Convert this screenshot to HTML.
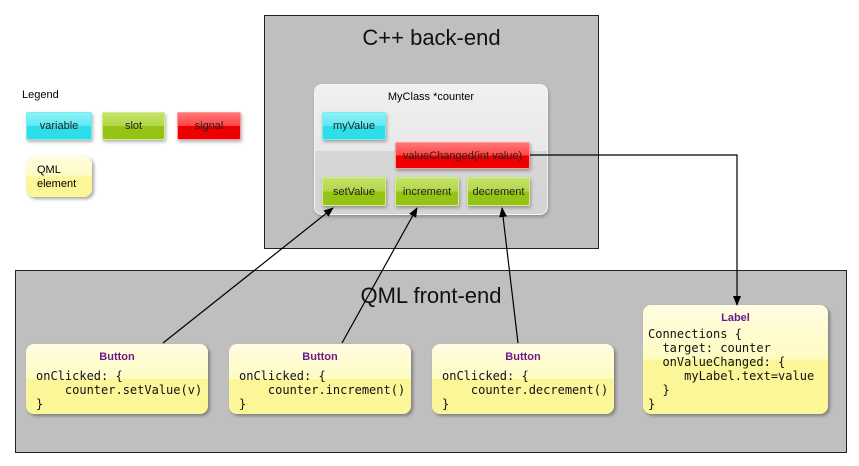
<!DOCTYPE html>
<html><head><meta charset="utf-8"><style>
body{margin:0;width:859px;height:466px;background:#fff;position:relative;overflow:hidden;font-family:"Liberation Sans",sans-serif}
.a{position:absolute;box-sizing:border-box}
.big{background:#c0bfc0;border:1px solid #222}
.t{position:absolute;font-size:22px;color:#111;text-align:center}
.g{border-radius:2px;font-size:11px;text-align:center;color:#222;display:flex;align-items:center;justify-content:center}
.var{background:linear-gradient(#8ef2f8 0,#5ce8f2 50%,#2fdde9 50%,#2fdde9 100%);border:1px solid #7ee;box-shadow:1px 2px 3px rgba(0,0,0,.3)}
.slot{background:linear-gradient(#c4e26a 0,#b1d846 50%,#95c316 50%,#95c316 100%);border:1px solid #d6ec8a;box-shadow:1px 2px 3px rgba(0,0,0,.3)}
.sig{background:linear-gradient(#f77 0,#f44 50%,#e00 50%,#e00 100%);border:1px solid #f99;box-shadow:1px 2px 3px rgba(0,0,0,.3)}
.q{background:linear-gradient(#fffde0 0,#fffbc4 50%,#fbf698 50%,#fbf698 100%);border-radius:8px;box-shadow:2px 2px 3px rgba(0,0,0,.35)}
.code{font-family:"DejaVu Sans Mono","Liberation Mono",monospace;font-size:12px;line-height:14px;white-space:pre;color:#111;position:absolute;left:0;top:25px;padding-left:10px}
.h{position:absolute;top:7px;left:0;right:0;text-align:center;font-weight:bold;font-size:11px;color:#6a1b8a}
</style></head><body>
<div class="a" style="left:22px;top:89px;font-size:11px">Legend</div>
<div class="a g var" style="left:26px;top:112px;width:66px;height:28px">variable</div>
<div class="a g slot" style="left:102px;top:112px;width:63px;height:28px">slot</div>
<div class="a g sig" style="left:177px;top:112px;width:64px;height:28px">signal</div>
<div class="a q" style="left:26px;top:156px;width:66px;height:41px;font-size:11px;padding:7px 0 0 11px;line-height:14px">QML<br>element</div>

<div class="a big" style="left:264px;top:15px;width:335px;height:234px"></div>
<div class="t" style="left:264px;width:335px;top:25px">C++ back-end</div>
<div class="a" style="left:314px;top:84px;width:234px;height:131px;border-radius:8px;border:1px solid #f4f4f4;background:linear-gradient(#f0f0f0 0,#e8e8e8 51%,#d7d7d7 51%,#d4d4d4 100%);box-shadow:1px 2px 3px rgba(0,0,0,.25)"></div>
<div class="a" style="left:314px;top:91px;width:234px;text-align:center;font-size:11px">MyClass *counter</div>
<div class="a g var" style="left:322px;top:112px;width:64px;height:28px">myValue</div>
<div class="a g sig" style="left:395px;top:142px;width:135px;height:27px">valueChanged(int value)</div>
<div class="a g slot" style="left:322px;top:177px;width:64px;height:29px">setValue</div>
<div class="a g slot" style="left:395px;top:177px;width:64px;height:29px">increment</div>
<div class="a g slot" style="left:467px;top:177px;width:63px;height:29px">decrement</div>

<div class="a big" style="left:15px;top:270px;width:832px;height:183px"></div>
<div class="t" style="left:15px;width:832px;top:283px">QML front-end</div>

<div class="a q" style="left:26px;top:344px;width:182px;height:70px"><div class="h">Button</div><div class="code">onClicked: {
    counter.setValue(v)
}</div></div>
<div class="a q" style="left:229px;top:344px;width:182px;height:70px"><div class="h">Button</div><div class="code">onClicked: {
    counter.increment()
}</div></div>
<div class="a q" style="left:432px;top:344px;width:182px;height:70px"><div class="h">Button</div><div class="code">onClicked: {
    counter.decrement()
}</div></div>
<div class="a q" style="left:643px;top:305px;width:185px;height:109px"><div class="h">Label</div><div class="code" style="left:-5px;top:22px">Connections {
  target: counter
  onValueChanged: {
     myLabel.text=value
  }
}</div></div>

<svg class="a" style="left:0;top:0" width="859" height="466">
<defs><marker id="m" markerWidth="10" markerHeight="10" refX="9" refY="5" orient="auto" markerUnits="userSpaceOnUse"><path d="M0,1 L10,5 L0,9 Z" fill="#000"/></marker></defs>
<g stroke="#000" stroke-width="1.2" fill="none">
<line x1="163" y1="343" x2="333" y2="208" marker-end="url(#m)"/>
<line x1="342" y1="343" x2="417" y2="208" marker-end="url(#m)"/>
<line x1="518" y1="343" x2="502" y2="208" marker-end="url(#m)"/>
<polyline points="530,155 737,155 737,305" marker-end="url(#m)"/>
</g></svg>
</body></html>
